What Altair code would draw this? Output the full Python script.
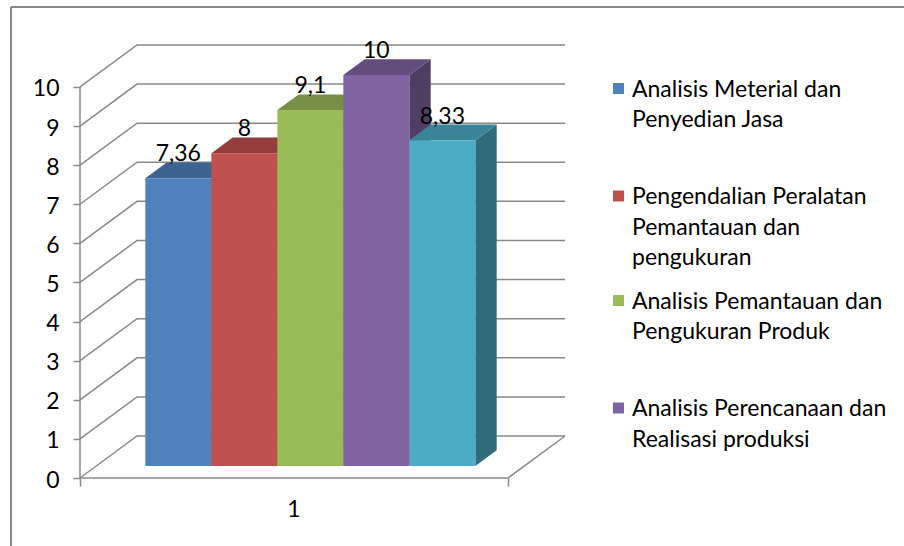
import altair as alt
import pandas as pd

# ---------------- data ----------------
SERIES = [
    "Analisis Meterial dan Penyedian Jasa",
    "Pengendalian Peralatan Pemantauan dan pengukuran",
    "Analisis Pemantauan dan Pengukuran Produk",
    "Analisis Perencanaan dan Realisasi produksi",
    "",
]
VALUES = [7.36, 8, 9.1, 10, 8.33]
Y_TICKS = list(range(0, 11))
CATEGORY = "1"
LEGEND_LINES = [
    ["Analisis Meterial dan", "Penyedian Jasa"],
    ["Pengendalian Peralatan", "Pemantauan dan", "pengukuran"],
    ["Analisis Pemantauan dan", "Pengukuran Produk"],
    ["Analisis Perencanaan dan", "Realisasi produksi"],
]

# ---------------- style ----------------
FRONT = ["#4F81BD", "#C0504D", "#9BBB59", "#8064A2", "#4BACC6"]
TOP = ["#3D6392", "#943E3B", "#779045", "#634D7D", "#3A8498"]
SIDE = ["#315075", "#773230", "#607437", "#4F3E64", "#2F6B7B"]
GRAY = "#898989"
FONT = "Lato"
FS = 23

# oblique 3D geometry (x in category-width units, y in value units)
DX, DY = 0.1332, 1.074      # back wall offset
BW = 0.1542                 # bar width
F, B = 0.286, 0.66          # bar front / back depth fraction
XMAX, YMAX = 1.14, 11.2
W, H = 488, 438
PAD = {"left": 80, "top": 40, "right": 904 - 80 - W, "bottom": 546 - 40 - H}

XS = alt.Scale(domain=[0, XMAX], nice=False, zero=False)
YS = alt.Scale(domain=[0, YMAX], nice=False, zero=False)
XAX = alt.Axis(values=[0, 1], tickSize=8, tickWidth=1.5, tickColor=GRAY,
               domain=False, grid=False, labels=False, title=None)
YAX = alt.Axis(values=Y_TICKS, tickSize=7, tickWidth=1.5, tickColor=GRAY,
               domain=False, grid=False, labelFont=FONT, labelFontSize=FS,
               labelColor="#000000", labelPadding=14, labelOffset=2, title=None)


def X(f="x"):
    return alt.X(f"{f}:Q", scale=XS, axis=XAX, stack=None)


def Y(f="y"):
    return alt.Y(f"{f}:Q", scale=YS, axis=YAX, stack=None)


n = len(VALUES)
lefts = [0.5 - n * BW / 2 + i * BW for i in range(n)]

# gridlines + floor + front axis
grid_rows = []
for v in Y_TICKS:
    for o, (x, y) in enumerate([(0, v), (DX, v + DY), (1 + DX, v + DY)]):
        grid_rows.append({"g": f"g{v}", "o": o, "x": x, "y": y})
for o, (x, y) in enumerate([(0, 0), (1, 0), (1 + DX, DY)]):
    grid_rows.append({"g": "floor", "o": o, "x": x, "y": y})
for o, (x, y) in enumerate([(0, 0), (0, Y_TICKS[-1])]):
    grid_rows.append({"g": "axis", "o": o, "x": x, "y": y})
grid_df = pd.DataFrame(grid_rows)

side_rows, top_rows, front_rows, lab_rows = [], [], [], []
for i, v in enumerate(VALUES):
    L, R = lefts[i], lefts[i] + BW
    tf, tb = v + F * DY, v + B * DY
    side_rows += [
        {"bar": i, "x": R + F * DX, "y": F * DY, "y2": tf, "fill": SIDE[i]},
        {"bar": i, "x": R + B * DX, "y": B * DY, "y2": tb, "fill": SIDE[i]},
    ]
    # top face as a vertical band: lower and upper edges piecewise linear
    for x, lo, hi in [(L + F * DX, tf, tf), (L + B * DX, tf, tb),
                      (R + F * DX, tf, tb), (R + B * DX, tb, tb)]:
        top_rows.append({"bar": i, "x": x, "y": lo, "y2": hi, "fill": TOP[i]})
    front_rows.append({"bar": i, "x": L + F * DX, "x2": R + F * DX,
                       "y": F * DY, "y2": tf, "fill": FRONT[i]})
    lab_rows.append({"x": (L + R) / 2 + F * DX, "y": tb,
                     "t": f"{v:g}".replace(".", ",")})

side_df = pd.DataFrame(side_rows)
top_df = pd.DataFrame(top_rows)
front_df = pd.DataFrame(front_rows)
lab_df = pd.DataFrame(lab_rows)
cat_df = pd.DataFrame({"x": [0.5], "y": [0], "t": [CATEGORY]})

# legend (layout positions, pixels relative to plot origin)
LEG_BASE = [56.5, 164, 268.5, 376]
LINE_H = 30.5
leg_txt, leg_sym = [], []
for i, lines in enumerate(LEGEND_LINES):
    leg_sym.append({"py": LEG_BASE[i] - 8, "fill": FRONT[i]})
    for j, s in enumerate(lines):
        leg_txt.append({"py": LEG_BASE[i] + j * LINE_H, "t": s})
leg_txt_df = pd.DataFrame(leg_txt)
leg_sym_df = pd.DataFrame(leg_sym)

grid = alt.Chart(grid_df).mark_line(color=GRAY, strokeWidth=1.5).encode(
    x=X(), y=Y(), detail="g:N", order="o:Q")

sides = alt.Chart(side_df).mark_area(orient="vertical").encode(
    x=X(), y=Y(), y2="y2:Q", detail="bar:N", fill=alt.Fill("fill:N", scale=None))

tops = alt.Chart(top_df).mark_area(orient="vertical").encode(
    x=X(), y=Y(), y2="y2:Q", detail="bar:N", fill=alt.Fill("fill:N", scale=None))

fronts = alt.Chart(front_df).mark_rect().encode(
    x=X(), x2="x2:Q", y=Y(), y2="y2:Q", fill=alt.Fill("fill:N", scale=None))

labels = alt.Chart(lab_df).mark_text(
    font=FONT, fontSize=FS, color="#000000", baseline="alphabetic", dy=-1
).encode(x=X(), y=Y(), text="t:N")

cat = alt.Chart(cat_df).mark_text(
    font=FONT, fontSize=FS, color="#000000", baseline="middle", dy=32
).encode(x=X(), y=Y(), text="t:N")

leg_t = alt.Chart(leg_txt_df).mark_text(
    font=FONT, fontSize=FS, color="#000000", align="left", baseline="alphabetic"
).encode(x=alt.value(552), y=alt.Y("py:Q", scale=None), text="t:N")

leg_s = alt.Chart(leg_sym_df).mark_square(size=121, opacity=1).encode(
    x=alt.value(538.5), y=alt.Y("py:Q", scale=None),
    fill=alt.Fill("fill:N", scale=None))

frame_l = alt.Chart(pd.DataFrame({"a": [0]})).mark_rule(
    color="#878787", strokeWidth=2).encode(
    x=alt.value(-69), y=alt.value(-33), y2=alt.value(H + PAD["bottom"]))
frame_t = alt.Chart(pd.DataFrame({"a": [0]})).mark_rule(
    color="#878787", strokeWidth=2).encode(
    y=alt.value(-33), x=alt.value(-69), x2=alt.value(W + PAD["right"]))

chart = alt.layer(
    grid, sides, tops, fronts, labels, cat, leg_s, leg_t, frame_l, frame_t
).properties(
    width=W, height=H,
    autosize=alt.AutoSizeParams(type="none"),
    padding=PAD,
    background="#ffffff",
).configure_view(stroke=None)

chart.save("out.html", embed_options={"renderer": "svg", "actions": False})
